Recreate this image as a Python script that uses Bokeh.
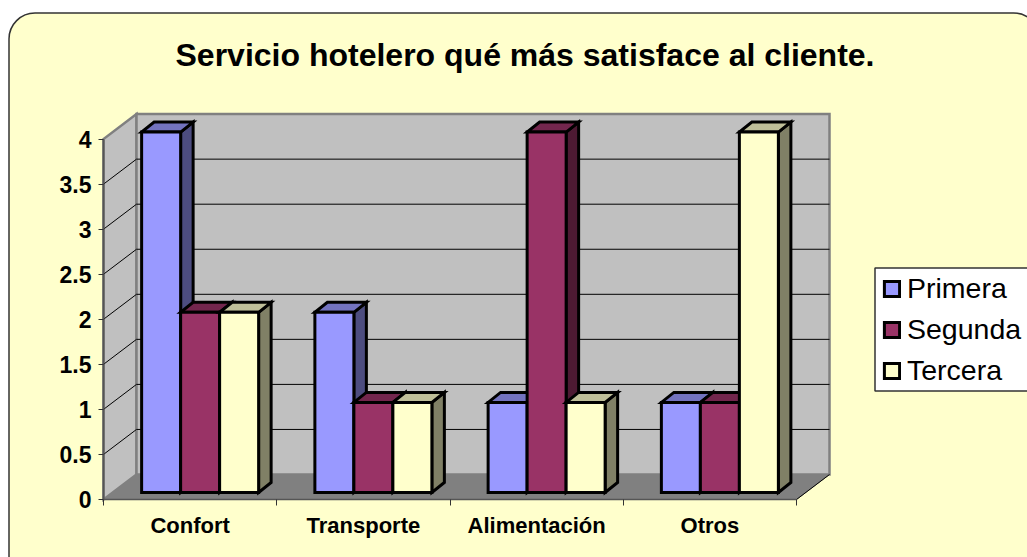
from bokeh.plotting import figure
from bokeh.models import (BoxAnnotation, FixedTicker, Label, Legend, LegendItem, NumeralTickFormatter, Range1d)
from bokeh.embed import file_html
from bokeh.resources import INLINE

title = "Servicio hotelero qué más satisface al cliente."
categories = ["Confort", "Transporte", "Alimentación", "Otros"]
primera = [4, 2, 1, 1]
segunda = [2, 1, 4, 1]
tercera = [2, 1, 1, 4]
series_names = ["Primera", "Segunda", "Tercera"]
y_ticks = [0, 0.5, 1, 1.5, 2, 2.5, 3, 3.5, 4]

front_colors = ["#9999FF", "#993366", "#FFFFCC"]
top_colors = ["#7373BF", "#73264D", "#BFBF99"]
side_colors = ["#4D4D80", "#4D1A33", "#808066"]

W, H = 1027, 557
PX_X, PX_Y = 173.25, 90.1        # pixels per data unit
ORIGIN_X, ORIGIN_Y = 103, 499    # canvas position of the axes' origin

# 3-D projection offsets, in data units
WALL_DX, WALL_DY = 33 / PX_X, 25 / PX_Y
BAR_W = 39 / PX_X
BAR_SHIFT_X, BAR_SHIFT_Y = 10 / PX_X, 7 / PX_Y
BAR_DX, BAR_DY = 12.5 / PX_X, 10 / PX_Y

p = figure(width=W, height=H, output_backend="svg", toolbar_location=None,
           x_range=Range1d(-ORIGIN_X / PX_X, (W - ORIGIN_X) / PX_X),
           y_range=Range1d(-(H - ORIGIN_Y) / PX_Y, ORIGIN_Y / PX_Y),
           min_border=0, background_fill_color="white", border_fill_color="white",
           outline_line_color=None)
p.xgrid.visible = False
p.ygrid.visible = False

# Rounded chart area, running off the canvas on the right and at the bottom
p.add_layout(BoxAnnotation(left=8.5, right=1039, top=H - 12.5, bottom=-50,
                           left_units="screen", right_units="screen",
                           top_units="screen", bottom_units="screen",
                           border_radius=26, fill_color="#FFFFCC", fill_alpha=1,
                           line_color="#333333", line_alpha=1, line_width=1.5, level="underlay"))
# Legend frame
p.add_layout(BoxAnnotation(left=874.5, right=1040, top=H - 267.5, bottom=H - 390.5,
                           left_units="screen", right_units="screen",
                           top_units="screen", bottom_units="screen",
                           fill_color="white", fill_alpha=1,
                           line_color="#333333", line_alpha=1, line_width=1.5, level="underlay"))

p.add_layout(Label(x=(175 - ORIGIN_X) / PX_X, y=(ORIGIN_Y - 54) / PX_Y, text=title,
                   text_font="Liberation Sans", text_font_style="bold",
                   text_font_size="32px", text_color="black", text_baseline="alphabetic"))

n = len(categories)

# Floor
p.patch([0, n, n + WALL_DX, WALL_DX], [0, 0, WALL_DY, WALL_DY],
        fill_color="#808080", line_color="#808080", line_width=1)
# Side and back wall
top = y_ticks[-1]
p.patches([[0, WALL_DX, WALL_DX, 0], [WALL_DX, n + WALL_DX, n + WALL_DX, WALL_DX]],
          [[0, WALL_DY, top + WALL_DY, top], [WALL_DY, WALL_DY, top + WALL_DY, top + WALL_DY]],
          fill_color="#C0C0C0", line_color="#808080", line_width=2.5, line_join="miter")
# Gridlines
inner = y_ticks[1:-1]
p.multi_line([[0, WALL_DX, n + WALL_DX] for _ in inner],
             [[v, v + WALL_DY, v + WALL_DY] for v in inner],
             line_color="black", line_width=1)
p.line([n, n + WALL_DX], [0, WALL_DY], line_color="black", line_width=1)

# Bars
legend_items = []
for s, (name, vals) in enumerate(zip(series_names, [primera, segunda, tercera])):
    x0 = [i + 0.5 + BAR_SHIFT_X + (s - 1.5) * BAR_W for i in range(n)]
    x1 = [x + BAR_W for x in x0]
    base = [BAR_SHIFT_Y] * n
    y1 = [v + BAR_SHIFT_Y for v in vals]
    p.patches([[b, b + BAR_DX, b + BAR_DX, b] for b in x1],
              [[l, l + BAR_DY, u + BAR_DY, u] for l, u in zip(base, y1)],
              fill_color=side_colors[s], line_color="black", line_width=3, line_join="miter")
    p.patches([[a, b, b + BAR_DX, a + BAR_DX] for a, b in zip(x0, x1)],
              [[u, u, u + BAR_DY, u + BAR_DY] for u in y1],
              fill_color=top_colors[s], line_color="black", line_width=3, line_join="miter")
    r = p.quad(left=x0, right=x1, bottom=base, top=y1,
               fill_color=front_colors[s], line_color="black", line_width=3, line_join="miter")
    legend_items.append(LegendItem(label=name, renderers=[r]))

# Axes
xa = p.xaxis[0]
xa.fixed_location = 0
xa.ticker = FixedTicker(ticks=[i + 0.5 for i in range(n)], minor_ticks=list(range(n + 1)))
xa.major_label_overrides = {i + 0.5: c for i, c in enumerate(categories)}
xa.major_tick_in = 0
xa.major_tick_out = 0
xa.minor_tick_in = 0
xa.minor_tick_out = 6
xa.minor_tick_line_color = "#333333"
xa.bounds = (0, n)
xa.axis_line_color = "#555555"
xa.axis_line_width = 1.5
xa.major_label_standoff = 7
xa.major_label_text_font = "Liberation Sans"
xa.major_label_text_font_style = "bold"
xa.major_label_text_font_size = "22px"
xa.major_label_text_color = "black"

ya = p.yaxis[0]
ya.fixed_location = 0
ya.ticker = FixedTicker(ticks=y_ticks)
ya.formatter = NumeralTickFormatter(format="0.[0]")
ya.major_tick_in = 0
ya.major_tick_out = 5
ya.minor_tick_in = 0
ya.minor_tick_out = 0
ya.major_tick_line_color = "#333333"
ya.bounds = (0, top)
ya.axis_line_color = "#555555"
ya.axis_line_width = 2
ya.major_label_standoff = 7
ya.major_label_text_font = "Liberation Sans"
ya.major_label_text_font_style = "bold"
ya.major_label_text_font_size = "23px"
ya.major_label_text_color = "black"

# Legend
legend = Legend(items=legend_items, location=(882, 170), orientation="vertical",
                margin=0, padding=0, spacing=8, glyph_width=19, glyph_height=19,
                label_standoff=6, label_height=33,
                label_text_font="Liberation Sans", label_text_font_size="28.5px",
                label_text_color="black", background_fill_alpha=0, border_line_color=None)
p.add_layout(legend, "center")

open("out.html", "w").write(file_html(p, INLINE))
